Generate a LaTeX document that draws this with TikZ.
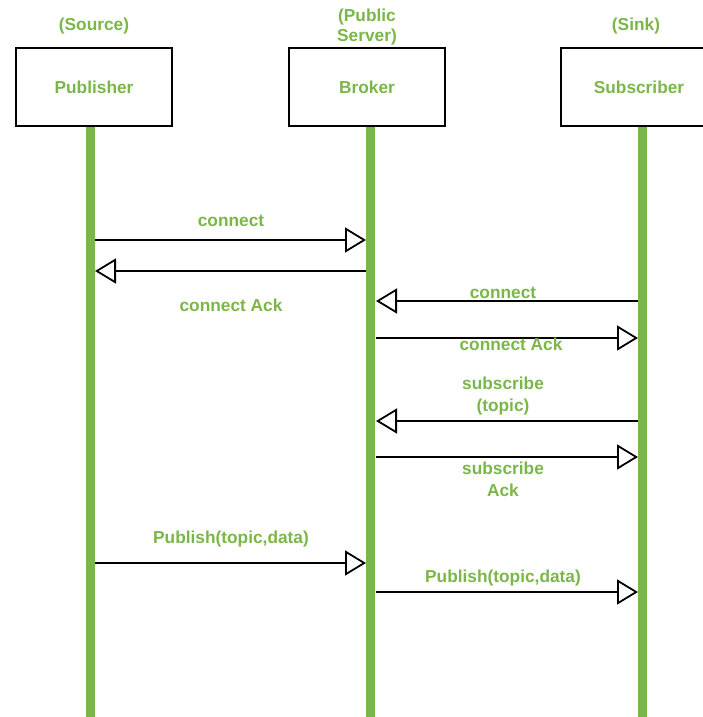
\documentclass[tikz,border=0pt]{standalone}
\usepackage{fontspec}
\setmainfont{Liberation Sans}
\usepackage{xcolor}
\usepackage{tikz}
\usetikzlibrary{arrows.meta}
\usetikzlibrary{positioning}
\definecolor{lgreen}{RGB}{122,182,72}
\begin{document}
\begin{tikzpicture}[x=1pt, y=-1pt,
    actor/.style={draw,line width=1.8pt,minimum width=156pt,
      minimum height=78pt,text=lgreen,font=\fontsize{17.3}{20.5}\selectfont\bfseries},
    role/.style={text=lgreen,align=center,
      font=\fontsize{17.3}{20.5}\selectfont\bfseries},
    life/.style={lgreen,line width=9pt},
    msg/.style={black,line width=1.8pt,
      -{Triangle[open,length=21pt,width=25pt]}},
    lbl/.style={text=lgreen,align=center,
      font=\fontsize{17.3}{21.5}\selectfont\bfseries}]

\useasboundingbox (0,0) rectangle (702,717);

\def\PL{95}
\def\BL{366}
\def\BR{376}
\def\SL{638}

\node[actor] (pub) at (94,87) {Publisher};
\node[actor] (bro) at (367,87) {Broker};
\node[actor] (sub) at (639,87) {Subscriber};

\node[role] (pubrole) at (94,26) {(Source)};
\node[role] (brorole) at (367,27) {(Public\\Server)};
\node[role] (subrole) at (636,26) {(Sink)};

\coordinate (pubend) at (90.5,717);
\coordinate (broend) at (370.5,717);
\coordinate (subend) at (642.5,717);
\draw[life] (pub.south -| pubend) -- (pubend);
\draw[life] (bro.south -| broend) -- (broend);
\draw[life] (sub.south -| subend) -- (subend);

\foreach \ya/\from/\to/\xl/\yl/\txt [count=\n from 1] in {
    240/\PL/\BL/231/221/{connect},
    271/\BL/\PL/231/305/{connect Ack},
    301/\SL/\BR/503/293/{connect},
    338/\BR/\SL/511/344/{connect Ack},
    421/\SL/\BR/503/396/{subscribe\\(topic)},
    457/\BR/\SL/503/479.5/{subscribe\\Ack},
    563/\PL/\BL/231/539/{Publish(topic,data)},
    592/\BR/\SL/503/578/{Publish(topic,data)}} {
    \coordinate (s\n) at (\from,\ya);
    \coordinate (t\n) at (\to,\ya);
    \draw[msg] (s\n) -- (t\n);
    \node[lbl] (l\n) at (\xl,\yl) {\txt};
}

\end{tikzpicture}
\end{document}
